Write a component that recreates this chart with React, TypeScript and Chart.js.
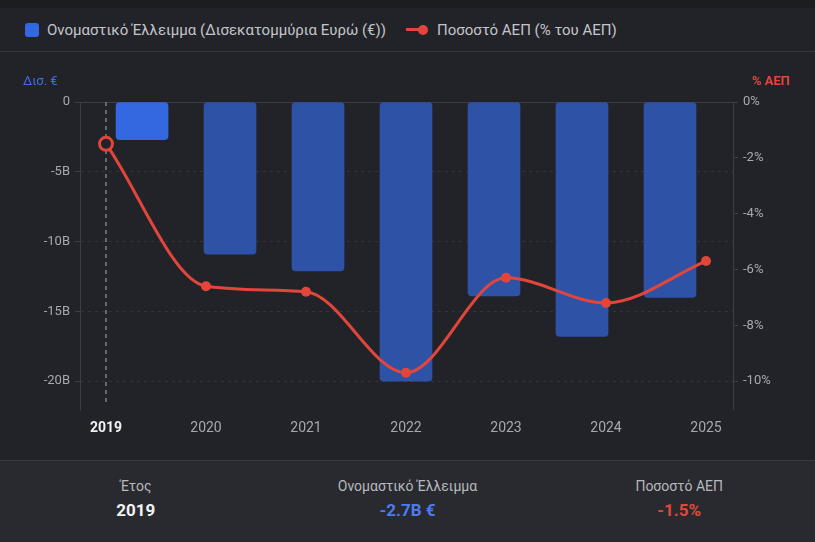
import React, { useEffect, useRef } from "react";
import { Chart, registerables } from "chart.js";

Chart.register(...registerables);

const years = ["2019", "2020", "2021", "2022", "2023", "2024", "2025"];
const deficitBn = [-2.7, -10.9, -12.1, -20.0, -13.9, -16.8, -14.0];
const gdpPct = [-1.5, -6.6, -6.8, -9.7, -6.3, -7.2, -5.7];
const leftTicks = [0, -5, -10, -15, -20];
const rightTicks = [0, -2, -4, -6, -8, -10];
const activeIndex = 0;

const barLabel = "Ονομαστικό Έλλειμμα (Δισεκατομμύρια Ευρώ (€))";
const lineLabel = "Ποσοστό ΑΕΠ (% του ΑΕΠ)";

const FONT = "Roboto, 'Noto Sans', sans-serif";
const BG = "#222328";
const BLUE_ACTIVE = "#3468e0";
const BLUE = "#2e52a6";
const RED = "#e2463b";
const TICK = "#a6a9af";
const GRID = "#34363c";
const AXIS = "#3d3f45";

const overlayPlugin = {
  id: "overlay",
  beforeDatasetsDraw(chart: any) {
    const { ctx, chartArea, scales } = chart;
    const x = scales.x.getPixelForValue(activeIndex);
    ctx.save();
    const y0 = scales.y.getPixelForValue(0);
    ctx.strokeStyle = AXIS;
    ctx.lineWidth = 1;
    ctx.beginPath();
    ctx.moveTo(chartArea.left - 5, y0 + 0.5);
    ctx.lineTo(chartArea.right + 5, y0 + 0.5);
    ctx.stroke();
    ctx.strokeStyle = "#7d8087";
    ctx.lineWidth = 1.5;
    ctx.setLineDash([4, 4]);
    ctx.beginPath();
    ctx.moveTo(x, chartArea.top);
    ctx.lineTo(x, chartArea.bottom - 4);
    ctx.stroke();
    ctx.restore();
  },
  afterDraw(chart: any) {
    const { ctx } = chart;
    ctx.save();
    ctx.textBaseline = "middle";
    ctx.font = `13px ${FONT}`;
    ctx.fillStyle = "#3d6fe3";
    ctx.textAlign = "left";
    ctx.fillText("Δισ. €", 23, 30);
    ctx.font = `bold 13px ${FONT}`;
    ctx.fillStyle = RED;
    ctx.textAlign = "right";
    ctx.fillText("% ΑΕΠ", 790, 30);
    ctx.restore();
  },
};

function ChartCanvas() {
  const ref = useRef<HTMLCanvasElement | null>(null);
  useEffect(() => {
    if (!ref.current) return;
    const chart = new Chart(ref.current, {
      type: "bar",
      data: {
        datasets: [
          {
            type: "line",
            label: lineLabel,
            data: gdpPct.map((v, i) => ({ x: i, y: v })),
            xAxisID: "x",
            yAxisID: "y1",
            borderColor: RED,
            borderWidth: 3,
            cubicInterpolationMode: "monotone",
            pointRadius: (c: any) => (c.dataIndex === activeIndex ? 6.5 : 5),
            pointBackgroundColor: (c: any) => (c.dataIndex === activeIndex ? BG : RED),
            pointBorderColor: RED,
            pointBorderWidth: (c: any) => (c.dataIndex === activeIndex ? 3 : 0),
            order: 1,
          } as any,
          {
            type: "bar",
            label: barLabel,
            data: deficitBn.map((v, i) => ({ x: i, y: v })),
            xAxisID: "xb",
            yAxisID: "y",
            backgroundColor: (c: any) => (c.dataIndex === activeIndex ? BLUE_ACTIVE : BLUE),
            borderRadius: 4,
            borderSkipped: false,
            grouped: false,
            barThickness: 52,
            maxBarThickness: 52,
            order: 2,
          } as any,
        ],
      },
      options: {
        animation: false,
        responsive: false,
        maintainAspectRatio: false,
        layout: { padding: { top: 50, left: 0, right: 0, bottom: 0 } },
        plugins: { legend: { display: false }, tooltip: { enabled: false } },
        scales: {
          x: {
            type: "linear",
            position: "bottom",
            offset: false,
            min: -0.26,
            max: 6.27,
            afterBuildTicks: (s: any) => {
              s.ticks = years.map((_, i) => ({ value: i }));
            },
            afterFit: (s: any) => {
              s.height = 50;
            },
            ticks: {
              autoSkip: false,
              maxRotation: 0,
              padding: 11,
              callback: (_v: any, i: number) => years[i],
              color: (c: any) => (c.index === activeIndex ? "#f1f2f4" : TICK),
              font: (c: any) => ({
                family: FONT,
                size: 14,
                weight: c.index === activeIndex ? "bold" : "normal",
              }),
            },
            grid: { display: false, drawTicks: false, offset: false },
            border: { display: false },
          },
          xb: {
            type: "linear",
            position: "bottom",
            display: true,
            offset: false,
            min: -0.705,
            max: 6.716,
            afterBuildTicks: (s: any) => {
              s.ticks = years.map((_, i) => ({ value: i }));
            },
            afterFit: (s: any) => {
              s.height = 0;
            },
            ticks: { display: false },
            grid: { display: false, drawTicks: false, offset: false },
            border: { display: false },
          },
          y: {
            type: "linear",
            position: "left",
            min: -22,
            max: 0,
            afterBuildTicks: (s: any) => {
              s.ticks = leftTicks.map((v) => ({ value: v }));
            },
            afterFit: (s: any) => {
              s.width = 80;
            },
            ticks: {
              padding: 5,
              color: TICK,
              font: { family: FONT, size: 13 },
              callback: (v: any) => (v === 0 ? "0" : `${v}B`),
            },
            grid: {
              color: GRID,
              lineWidth: 1,
              tickLength: 5,
              tickColor: AXIS,
              drawTicks: true,
            },
            border: { display: true, color: AXIS, dash: [3, 4] },
          },
          y1: {
            type: "linear",
            position: "right",
            min: -11,
            max: 0,
            afterBuildTicks: (s: any) => {
              s.ticks = rightTicks.map((v) => ({ value: v }));
            },
            afterFit: (s: any) => {
              s.width = 82;
            },
            ticks: {
              padding: 5,
              color: TICK,
              font: { family: FONT, size: 13 },
              callback: (v: any) => `${v}%`,
            },
            grid: {
              drawOnChartArea: false,
              tickLength: 5,
              tickColor: AXIS,
              drawTicks: true,
            },
            border: { display: true, color: AXIS },
          },
        } as any,
      },
      plugins: [overlayPlugin],
    });
    return () => chart.destroy();
  }, []);
  return <canvas ref={ref} width={815} height={407} style={{ display: "block", width: 815, height: 407 }} />;
}

export default function App() {
  useEffect(() => {
    document.body.style.margin = "0";
    document.body.style.background = BG;
  }, []);
  const statLabel: React.CSSProperties = { fontSize: 14, color: "#b6b9be", marginBottom: 6 };
  const statValue: React.CSSProperties = { fontSize: 17, fontWeight: 700 };
  const col: React.CSSProperties = { flex: 1, display: "flex", flexDirection: "column", alignItems: "center" };
  return (
    <div
      style={{
        position: "fixed",
        left: 0,
        top: 0,
        width: 815,
        height: 542,
        background: BG,
        fontFamily: FONT,
        overflow: "hidden",
      }}
    >
      <div style={{ height: 8, background: "#1c1d21" }} />
      <div
        style={{
          height: 43,
          borderBottom: "1px solid #34363c",
          display: "flex",
          alignItems: "center",
          paddingLeft: 25,
          fontSize: 15,
          color: "#c3c5ca",
        }}
      >
        <span style={{ width: 14, height: 14, borderRadius: 3, background: BLUE_ACTIVE, display: "inline-block", marginRight: 8 }} />
        <span>{barLabel}</span>
        <span style={{ display: "inline-flex", alignItems: "center", marginLeft: 20, marginRight: 9 }}>
          <span style={{ width: 14, height: 3, background: RED, display: "inline-block" }} />
          <span style={{ width: 10, height: 10, borderRadius: 5, background: RED, display: "inline-block", marginLeft: -2 }} />
        </span>
        <span>{lineLabel}</span>
      </div>
      <ChartCanvas />
      <div
        style={{
          position: "absolute",
          left: 0,
          top: 460,
          width: 815,
          height: 82,
          background: "#282a2f",
          borderTop: "1px solid #373940",
          display: "flex",
          alignItems: "center",
          boxSizing: "border-box",
          paddingBottom: 6,
        }}
      >
        <div style={col}>
          <div style={statLabel}>Έτος</div>
          <div style={{ ...statValue, color: "#f1f2f4" }}>{years[activeIndex]}</div>
        </div>
        <div style={col}>
          <div style={statLabel}>Ονομαστικό Έλλειμμα</div>
          <div style={{ ...statValue, color: "#4b7cf0" }}>{`${deficitBn[activeIndex]}B €`}</div>
        </div>
        <div style={col}>
          <div style={statLabel}>Ποσοστό ΑΕΠ</div>
          <div style={{ ...statValue, color: RED }}>{`${gdpPct[activeIndex]}%`}</div>
        </div>
      </div>
    </div>
  );
}
